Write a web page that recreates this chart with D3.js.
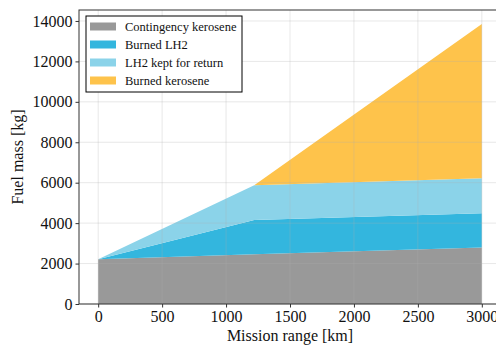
<!DOCTYPE html>
<html>
<head>
<meta charset="utf-8">
<script src="https://cdn.jsdelivr.net/npm/d3@7"></script>
<style>
  html, body { margin: 0; padding: 0; background: #fff; }
  svg { display: block; font-family: "Liberation Serif", "Times New Roman", serif; }
</style>
</head>
<body>
<svg id="chart" width="496" height="347"></svg>
<script>
// Mission range breakpoints [km]
const ranges = [0, 1220, 3000];
// Fuel components [kg] at each range, stacked bottom to top
const contingencyKerosene = [2210, 2460, 2790];
const burnedLH2 = [0, 1700, 1700];
const lh2KeptForReturn = [0, 1720, 1735];
const burnedKerosene = [0, 0, 7625];

const seriesNames = ["Contingency kerosene", "Burned LH2", "LH2 kept for return", "Burned kerosene"];
const seriesColors = ["#999999", "#33b6de", "#8bd3e9", "#fec34b"];
const xTicks = [0, 500, 1000, 1500, 2000, 2500, 3000];
const yTicks = [0, 2000, 4000, 6000, 8000, 10000, 12000, 14000];

const rows = ranges.map((r, i) => ({
  range: r,
  "Contingency kerosene": contingencyKerosene[i],
  "Burned LH2": burnedLH2[i],
  "LH2 kept for return": lh2KeptForReturn[i],
  "Burned kerosene": burnedKerosene[i]
}));

const svg = d3.select("#chart");
const margin = { left: 79, top: 10, right: -5, bottom: 43 };
const W = 496, H = 347;
const x0 = margin.left, x1 = W - margin.right;
const y0 = H - margin.bottom, y1 = margin.top;

const stacked = d3.stack().keys(seriesNames)(rows);
const maxY = d3.max(stacked[stacked.length - 1], d => d[1]);

const x = d3.scaleLinear().domain([-150, 3150]).range([x0, x1]);
const y = d3.scaleLinear().domain([0, maxY * 1.05]).range([y0, y1]);

// stacked areas
const area = d3.area()
  .x(d => x(d.data.range))
  .y0(d => y(d[0]))
  .y1(d => y(d[1]));

svg.append("g").selectAll("path")
  .data(stacked)
  .join("path")
  .attr("d", area)
  .attr("fill", (d, i) => seriesColors[i]);

// grid
const grid = svg.append("g").attr("stroke", "#b0b0b0").attr("stroke-opacity", 0.32).attr("stroke-width", 0.9);
grid.selectAll("line.vx").data(xTicks).join("line")
  .attr("x1", d => x(d)).attr("x2", d => x(d))
  .attr("y1", y0).attr("y2", y1);
grid.selectAll("line.hy").data(yTicks).join("line")
  .attr("x1", x0).attr("x2", x1)
  .attr("y1", d => y(d)).attr("y2", d => y(d));

// axes
const xAxis = d3.axisBottom(x).tickValues(xTicks).tickSize(3.5).tickPadding(3).tickFormat(d3.format("d"));
const yAxis = d3.axisLeft(y).tickValues(yTicks).tickSize(3.5).tickPadding(3).tickFormat(d3.format("d"));

const gx = svg.append("g").attr("transform", `translate(0,${y0})`).call(xAxis);
const gy = svg.append("g").attr("transform", `translate(${x0},0)`).call(yAxis);
[gx, gy].forEach(g => {
  g.select(".domain").remove();
  g.selectAll(".tick line").attr("stroke", "#333").attr("stroke-width", 1);
  g.selectAll(".tick text").attr("fill", "#111").style("font-size", "16px")
    .style("font-family", "'Liberation Serif', 'Times New Roman', serif");
});

// frame
svg.append("rect")
  .attr("x", x0).attr("y", y1)
  .attr("width", x1 - x0).attr("height", y0 - y1)
  .attr("fill", "none").attr("stroke", "#333").attr("stroke-width", 1);

// axis labels
svg.append("text")
  .attr("x", (x0 + x1) / 2).attr("y", 341)
  .attr("text-anchor", "middle").attr("fill", "#111")
  .style("font-size", "16px")
  .text("Mission range [km]");

svg.append("text")
  .attr("transform", `translate(23,${(y0 + y1) / 2}) rotate(-90)`)
  .attr("text-anchor", "middle").attr("fill", "#111")
  .style("font-size", "16px")
  .text("Fuel mass [kg]");

// legend
const lg = svg.append("g").attr("transform", "translate(86,16)");
lg.append("rect").attr("width", 156).attr("height", 76)
  .attr("fill", "#fff").attr("stroke", "#000").attr("stroke-width", 1);
const items = lg.selectAll("g.item").data(seriesNames).join("g")
  .attr("transform", (d, i) => `translate(4,${10.5 + i * 18})`);
items.append("rect").attr("x", 0).attr("y", -4).attr("width", 26).attr("height", 8)
  .attr("fill", (d, i) => seriesColors[i]);
items.append("text").attr("x", 35).attr("y", 4.3)
  .attr("fill", "#111").style("font-size", "12.5px")
  .text(d => d);
</script>
</body>
</html>
